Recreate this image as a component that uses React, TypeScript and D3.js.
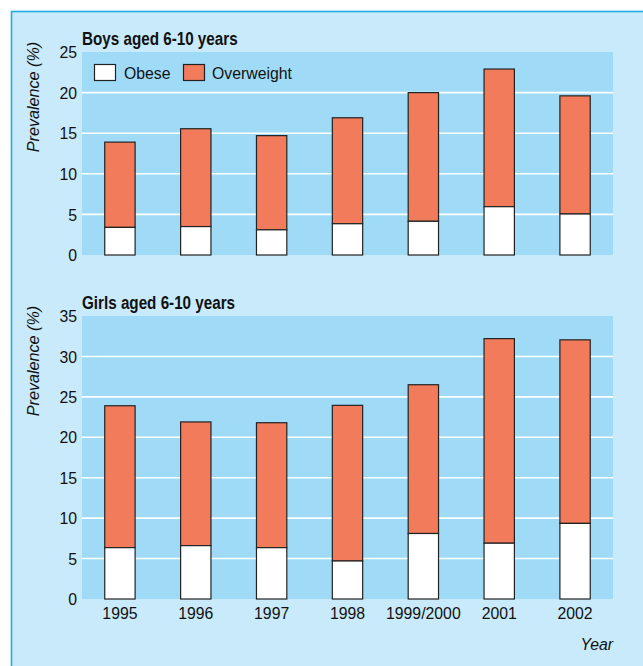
import React from 'react';
import * as d3 from 'd3';

const years = ['1995', '1996', '1997', '1998', '1999/2000', '2001', '2002'];
// obese share and total overweight (incl. obese), %
const boysObese = [3.4, 3.5, 3.1, 3.85, 4.15, 5.95, 5.05];
const boysOverweight = [13.9, 15.55, 14.7, 16.9, 20.0, 22.9, 19.6];
const girlsObese = [6.35, 6.6, 6.35, 4.7, 8.1, 6.9, 9.35];
const girlsOverweight = [23.9, 21.9, 21.8, 23.95, 26.5, 32.2, 32.05];
const boysTicks = [0, 5, 10, 15, 20, 25];
const girlsTicks = [0, 5, 10, 15, 20, 25, 30, 35];

const W = 643;
const H = 666;
const left = 82;
const right = 613;
const font = '"Liberation Sans", Arial, sans-serif';
const orange = '#f27b5c';
const plotBg = '#9fdbf7';
const panelBg = '#c8eafa';

const x = d3
  .scaleBand()
  .domain(years)
  .range([left, right])
  .paddingInner(0.6)
  .paddingOuter(0.3);

// condensed-looking text: a normal face squeezed horizontally
type LabelProps = {
  x: number;
  y: number;
  size?: number;
  sx?: number;
  anchor?: 'start' | 'middle' | 'end';
  bold?: boolean;
  italic?: boolean;
  rotate?: number;
  dy?: string;
  children: React.ReactNode;
};

const Label: React.FC<LabelProps> = ({ x, y, size = 17, sx = 0.93, anchor = 'start', bold, italic, rotate = 0, dy, children }) => (
  <g transform={`translate(${x},${y}) rotate(${rotate}) scale(${sx},1)`}>
    <text
      textAnchor={anchor}
      dy={dy}
      fontSize={size}
      fontFamily={font}
      fontWeight={bold ? 'bold' : 'normal'}
      fontStyle={italic ? 'italic' : 'normal'}
      fill="#111"
    >
      {children}
    </text>
  </g>
);

type PanelProps = {
  title: string;
  obese: number[];
  overweight: number[];
  ticks: number[];
  top: number;
  bottom: number;
  legend?: boolean;
  xAxis?: boolean;
};

const Panel: React.FC<PanelProps> = ({ title, obese, overweight, ticks, top, bottom, legend, xAxis }) => {
  const y = d3
    .scaleLinear()
    .domain([0, d3.max(ticks) as number])
    .range([bottom, top]);

  return (
    <g>
      <rect x={left} y={top} width={right - left} height={bottom - top} fill={plotBg} />
      {ticks
        .filter((t, i) => i > 0 && i < ticks.length - 1)
        .map((t) => (
          <line key={t} x1={left} x2={right} y1={y(t)} y2={y(t)} stroke="#fff" strokeWidth={1.6} />
        ))}
      {ticks.map((t) => (
        <Label key={t} x={77} y={y(t)} dy="0.36em" anchor="end">
          {t}
        </Label>
      ))}
      <Label x={left} y={top - 7} size={17.5} sx={0.87} bold>
        {title}
      </Label>
      <Label x={39} y={top + 45} rotate={-90} anchor="middle" italic sx={0.95}>
        Prevalence (%)
      </Label>
      {years.map((yr, i) => (
        <g key={yr}>
          <rect
            x={x(yr)}
            y={y(overweight[i])}
            width={x.bandwidth()}
            height={y(obese[i]) - y(overweight[i])}
            fill={orange}
            stroke="#222"
            strokeWidth={1.2}
          />
          <rect
            x={x(yr)}
            y={y(obese[i])}
            width={x.bandwidth()}
            height={y(0) - y(obese[i])}
            fill="#fff"
            stroke="#222"
            strokeWidth={1.2}
          />
          {xAxis && (
            <Label x={(x(yr) as number) + x.bandwidth() / 2} y={bottom + 20} anchor="middle">
              {yr}
            </Label>
          )}
        </g>
      ))}
      {legend && (
        <g>
          <rect x={94.5} y={64.5} width={21} height={16} fill="#fff" stroke="#222" strokeWidth={1.2} />
          <Label x={124} y={79}>Obese</Label>
          <rect x={183.5} y={64.5} width={21} height={16} fill={orange} stroke="#222" strokeWidth={1.2} />
          <Label x={212} y={79}>Overweight</Label>
        </g>
      )}
    </g>
  );
};

export default function App() {
  return (
    <svg width={W} height={H} style={{ position: 'absolute', left: 0, top: 0, background: '#fff' }}>
      <rect x={11.5} y={11.5} width={W} height={H} fill={panelBg} stroke="#22ade6" strokeWidth={1.6} />
      <Panel
        title="Boys aged 6-10 years"
        obese={boysObese}
        overweight={boysOverweight}
        ticks={boysTicks}
        top={52}
        bottom={255}
        legend
      />
      <Panel
        title="Girls aged 6-10 years"
        obese={girlsObese}
        overweight={girlsOverweight}
        ticks={girlsTicks}
        top={316}
        bottom={599}
        xAxis
      />
      <Label x={613} y={650} anchor="end" italic>
        Year
      </Label>
    </svg>
  );
}
